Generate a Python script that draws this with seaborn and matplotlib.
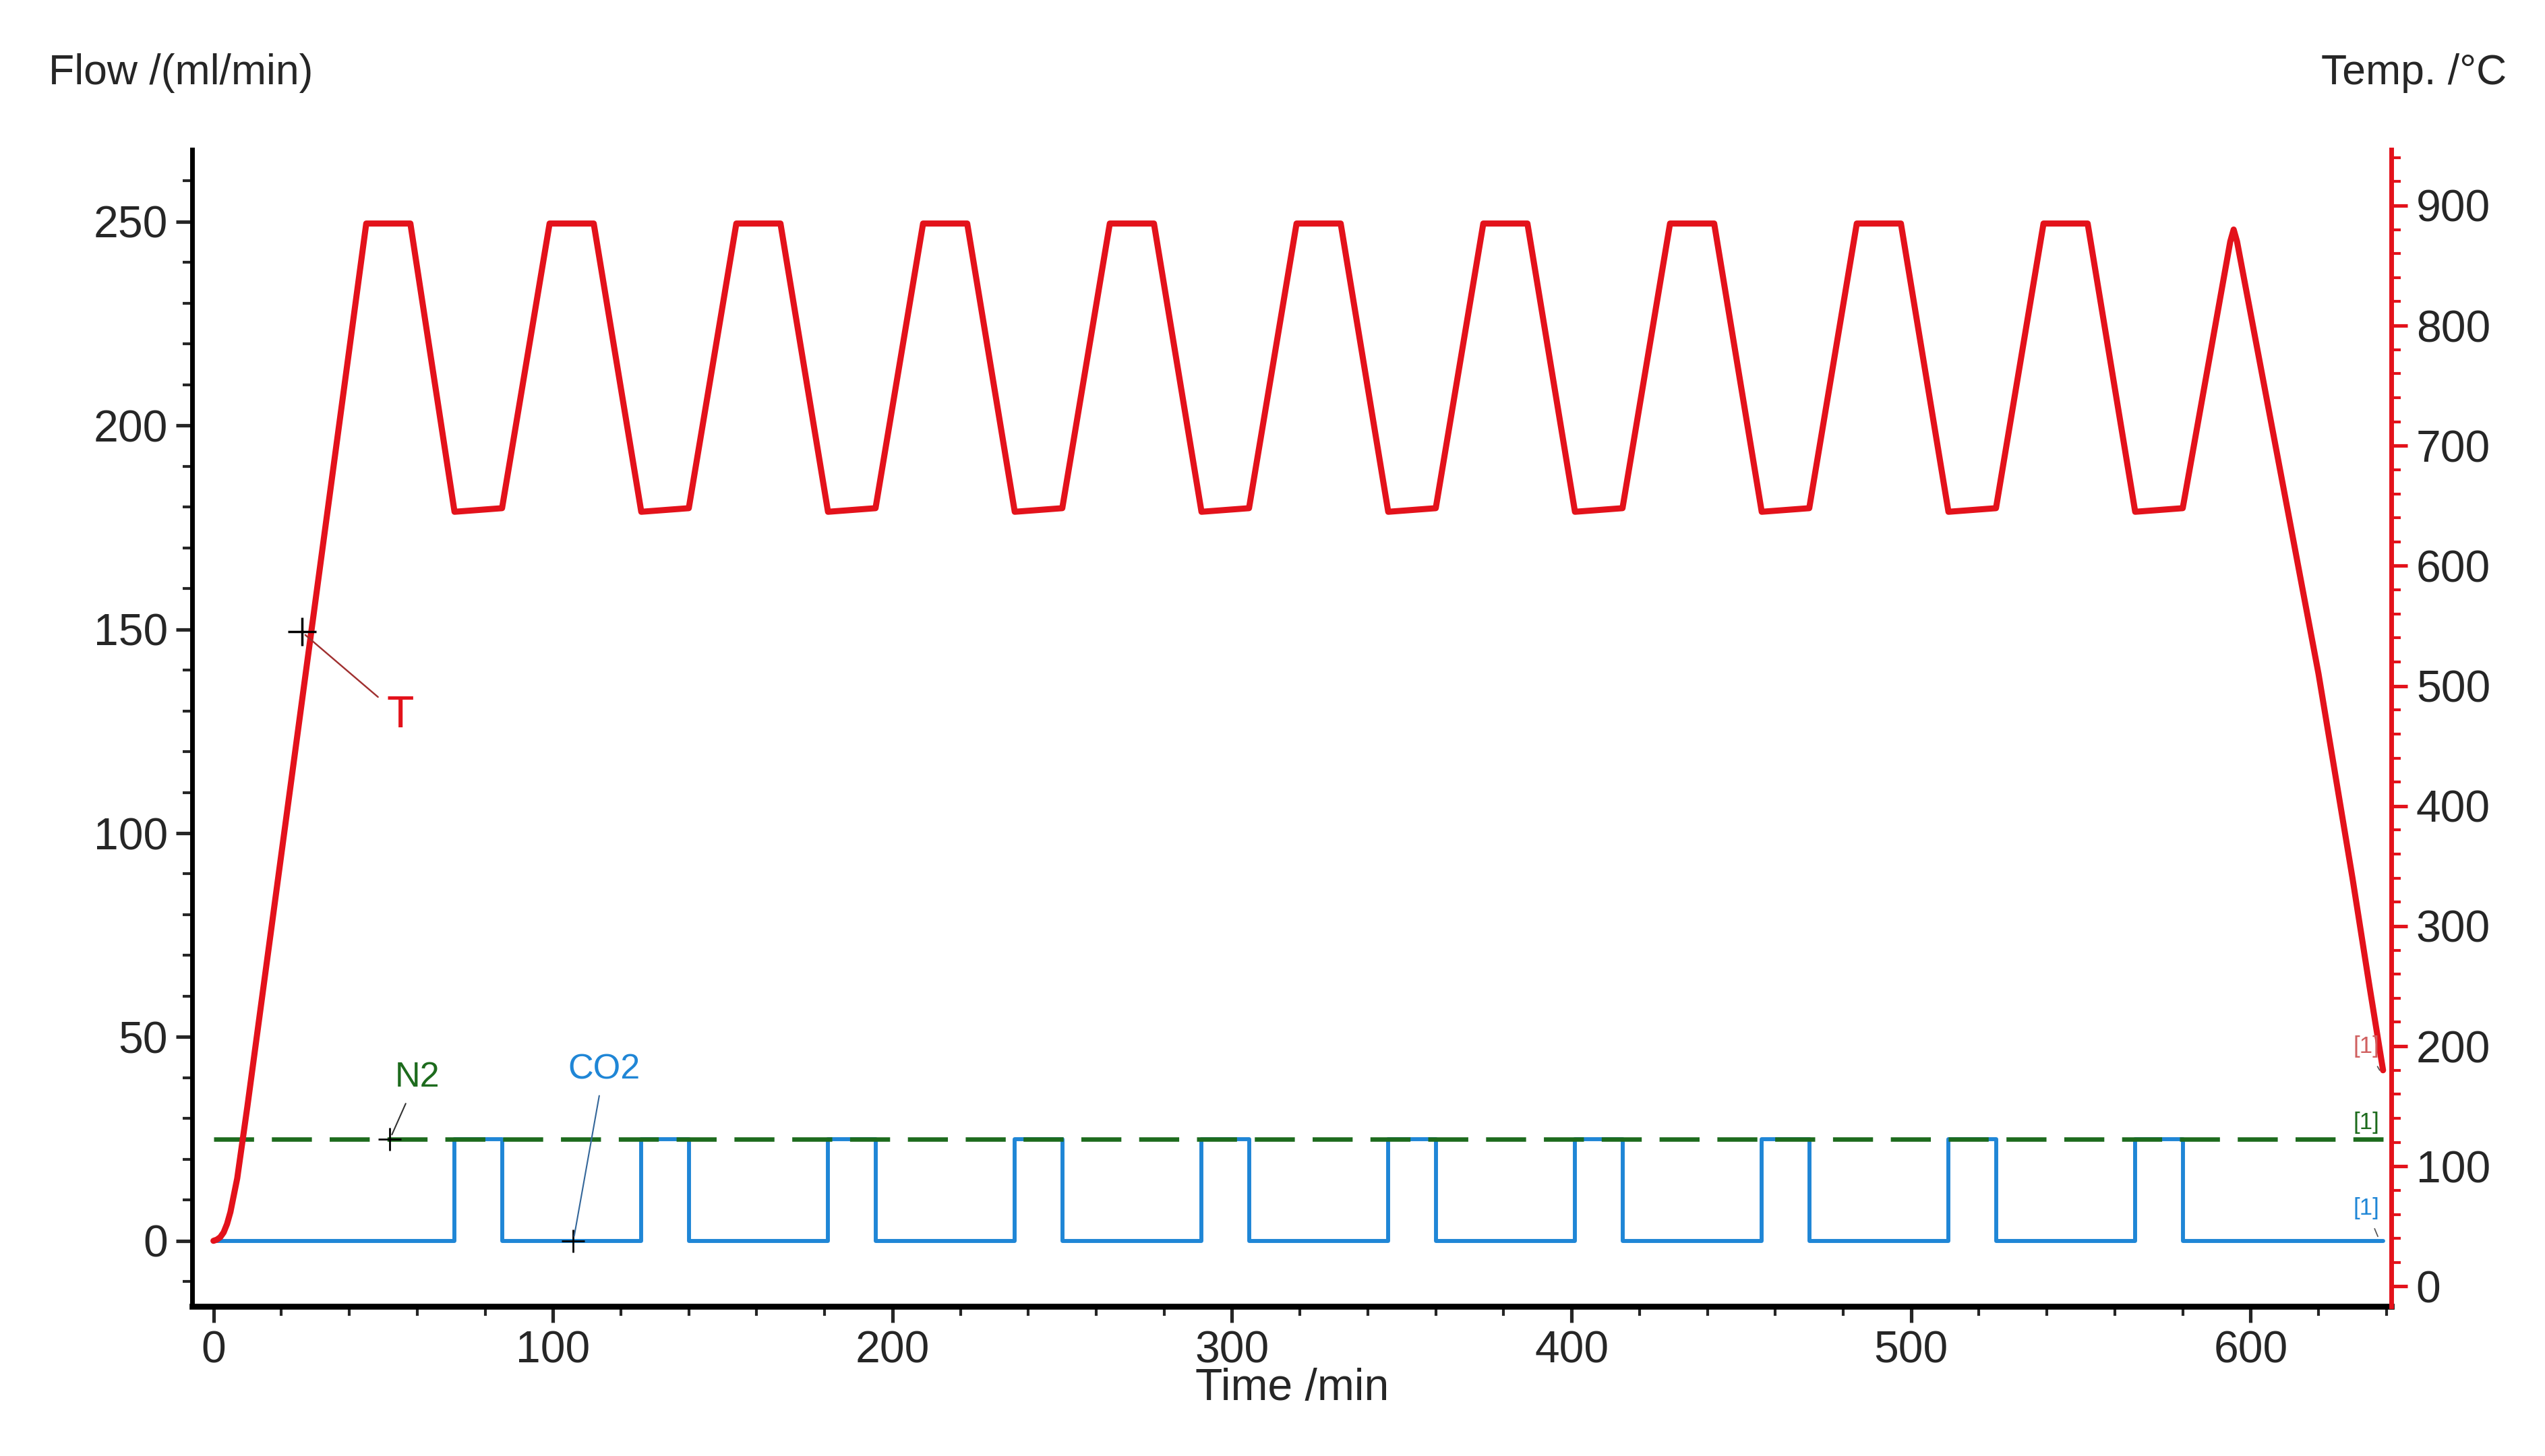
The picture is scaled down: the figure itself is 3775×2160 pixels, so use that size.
import matplotlib
matplotlib.use("Agg")
import matplotlib.pyplot as plt
from matplotlib.ticker import MultipleLocator
import seaborn as sns

# ── Data ─────────────────────────────────────────────────
temp_time = [0, 1, 2, 3, 4, 5, 7, 10, 45, 58, 71, 85, 99, 112, 126, 140,
             154, 167, 181, 195, 209, 222, 236, 250, 264, 277, 291, 305,
             319, 332, 346, 360, 374, 387, 401, 415, 429, 442, 456, 470,
             484, 497, 511, 525, 539, 552, 566, 580, 594, 595, 596, 600,
             610, 620, 630, 635, 639]
temp_vals = [38, 39, 41, 45, 52, 62, 90, 150, 885, 885, 645, 648, 885, 885,
             645, 648, 885, 885, 645, 648, 885, 885, 645, 648, 885, 885,
             645, 648, 885, 885, 645, 648, 885, 885, 645, 648, 885, 885,
             645, 648, 885, 885, 645, 648, 885, 885, 645, 648, 870, 880,
             870, 810, 660, 510, 340, 250, 180]

co2_time = [0, 71, 71, 85, 85, 126, 126, 140, 140, 181, 181, 195, 195, 236,
            236, 250, 250, 291, 291, 305, 305, 346, 346, 360, 360, 401, 401,
            415, 415, 456, 456, 470, 470, 511, 511, 525, 525, 566, 566, 580,
            580, 639]
co2_vals = [0, 0, 25, 25, 0, 0, 25, 25, 0, 0, 25, 25, 0, 0, 25, 25, 0, 0,
            25, 25, 0, 0, 25, 25, 0, 0, 25, 25, 0, 0, 25, 25, 0, 0, 25, 25,
            0, 0, 25, 25, 0, 0]

n2_time = [0, 639]
n2_vals = [25, 25]

RED, BLUE, GREEN = "#e3121b", "#1f86d6", "#1d6b1d"

# ── Figure ────────────────────────────────────────────────
sns.set_style("white")
plt.rcParams["font.family"] = ["Liberation Sans", "DejaVu Sans"]
fig = plt.figure(figsize=(15.1, 8.64), dpi=250)
ax = fig.add_axes([0.0756, 0.103, 0.8686 - 0.0045, 0.794])
ax2 = ax.twinx()

sns.lineplot(x=co2_time, y=co2_vals, ax=ax, color=BLUE, linewidth=1.7, estimator=None, sort=False)
sns.lineplot(x=n2_time, y=n2_vals, ax=ax, color=GREEN, linewidth=1.9,
             linestyle=(0, (9, 4)), estimator=None)
sns.lineplot(x=temp_time, y=temp_vals, ax=ax2, color=RED, linewidth=2.6, estimator=None, sort=False)

ax.set_xlim(-6.2, 641.5)
ax.set_ylim(-16, 267.6)
ax2.set_ylim((-16 + 11.2) * 3.394, (267.6 + 11.2) * 3.394)

ax.set_xticks(range(0, 601, 100))
ax.set_yticks(range(0, 251, 50))
ax2.set_yticks(range(0, 901, 100))
ax.xaxis.set_minor_locator(MultipleLocator(20))
ax.yaxis.set_minor_locator(MultipleLocator(10))
ax2.yaxis.set_minor_locator(MultipleLocator(20))

ax.tick_params(axis="both", which="major", labelsize=19, length=7, width=1.5,
               direction="out", left=True, bottom=True)
ax.tick_params(axis="both", which="minor", length=4, width=1.2,
               direction="out", left=True, bottom=True)
ax2.tick_params(axis="y", which="major", labelsize=19, length=7, width=1.5,
                color=RED, direction="out", right=True)
ax2.tick_params(axis="y", which="minor", length=4, width=1.2, color=RED,
                direction="out", right=True)

for a in (ax, ax2):
    for s in a.spines.values():
        s.set_visible(False)
ax.spines["left"].set_visible(True)
ax.spines["bottom"].set_visible(True)
ax.spines["left"].set_linewidth(2)
ax.spines["bottom"].set_linewidth(2.5)
ax2.spines["right"].set_visible(True)
ax2.spines["right"].set_color(RED)
ax2.spines["right"].set_linewidth(2)
ax.spines["left"].set_color("black")
ax.spines["bottom"].set_color("black")

ax.set_xlabel("Time /min", fontsize=19, labelpad=-2)
ax.set_ylabel("")
ax2.set_ylabel("")
fig.text(0.019, 0.95, "Flow /(ml/min)", fontsize=18, ha="left", va="center")
fig.text(0.985, 0.95, "Temp. /°C", fontsize=18, ha="right", va="center")

# ── Curve labels ─────────────────────────────────────────
ax2.plot([26], [545], marker="+", color="black", markersize=12, mew=1)
ax2.annotate("T", xy=(26, 545), xytext=(55, 475), color=RED, fontsize=19,
             ha="center", va="center",
             arrowprops=dict(arrowstyle="-", color="#a03030", lw=0.7))
ax.plot([52], [25], marker="+", color="black", markersize=10, mew=0.8)
ax.annotate("N2", xy=(52, 25), xytext=(60, 40), color=GREEN, fontsize=15,
            ha="center", va="center",
            arrowprops=dict(arrowstyle="-", color="#333333", lw=0.6))
ax.plot([106], [0], marker="+", color="black", markersize=10, mew=0.8)
ax.annotate("CO2", xy=(106, 0), xytext=(115, 42), color=BLUE, fontsize=15,
            ha="center", va="center",
            arrowprops=dict(arrowstyle="-", color="#336699", lw=0.6))
ax2.annotate("[1]", xy=(638, 180), xytext=(634, 200), color="#d06060",
             fontsize=10, ha="center", va="center",
             arrowprops=dict(arrowstyle="-", color="#555555", lw=0.5))
ax.annotate("[1]", xy=(638, 25), xytext=(634, 29), color=GREEN, fontsize=10,
            ha="center", va="center")
ax.annotate("[1]", xy=(638, 0), xytext=(634, 8), color=BLUE, fontsize=10,
            ha="center", va="center",
            arrowprops=dict(arrowstyle="-", color="#555555", lw=0.5))

fig.savefig("out.png", dpi=250)
